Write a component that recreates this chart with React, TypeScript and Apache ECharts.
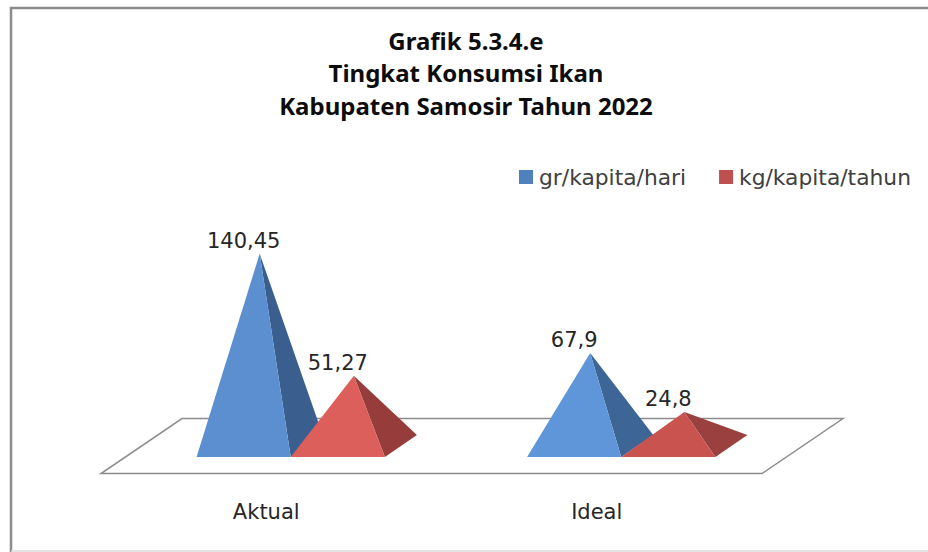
import React, { useEffect, useRef } from "react";
import * as echarts from "echarts";

const categories = ["Aktual", "Ideal"];
const seriesNames = ["gr/kapita/hari", "kg/kapita/tahun"];
const grPerDay = [140.45, 67.9];
const kgPerYear = [51.27, 24.8];
const titleText = "Grafik 5.3.4.e\nTingkat Konsumsi Ikan\nKabupaten Samosir Tahun 2022";

const FONT = '"DejaVu Sans", sans-serif';
const legendColors = ["#4F81BD", "#C0504D"];
// [front face, side face] for each category of each series
const faceColors = [
  [["#5B8FD0", "#3A5F8F"], ["#5F96D9", "#3D6595"]],
  [["#DC5F5B", "#963D3B"], ["#C9544F", "#9A403E"]],
];
const FLOOR_DX = 81;
const FLOOR_DY = 55;
const BAR_SHARE = 94 / 330;
const HALF_DX = 16;
const HALF_DY = 11;

const fmt = (v: number) => String(v).replace(".", ",");

function pyramid(seriesIdx: number) {
  return (_params: any, api: any) => {
    const cat = api.value(0);
    const val = api.value(1);
    const band = api.size([1, 0])[0];
    const w = band * BAR_SHARE;
    const origin = api.coord([cat, 0]);
    const top = api.coord([cat, val]);
    const dir = seriesIdx === 0 ? -0.5 : 0.5;
    const cx = origin[0] + FLOOR_DX / 2 + dir * w;
    const cy = origin[1] - FLOOR_DY / 2;
    const apex = [cx, cy - (origin[1] - top[1])];
    const fl = [cx - HALF_DX - w / 2, cy + HALF_DY];
    const fr = [cx - HALF_DX + w / 2, cy + HALF_DY];
    const br = [cx + HALF_DX + w / 2, cy - HALF_DY];
    const [front, side] = faceColors[seriesIdx][cat];
    return {
      type: "group",
      children: [
        { type: "polygon", shape: { points: [fr, br, apex] }, style: { fill: side } },
        { type: "polygon", shape: { points: [fl, fr, apex] }, style: { fill: front } },
        {
          type: "text",
          style: {
            text: fmt(val),
            x: apex[0] - HALF_DX,
            y: apex[1] - 13,
            align: "center",
            verticalAlign: "middle",
            fontSize: 21,
            fontFamily: FONT,
            fill: "#262626",
          },
        },
      ],
    };
  };
}

function floor(params: any) {
  const { x, y, width, height } = params.coordSys;
  const b = y + height;
  return {
    type: "polygon",
    shape: {
      points: [
        [x, b],
        [x + width, b],
        [x + width + FLOOR_DX, b - FLOOR_DY],
        [x + FLOOR_DX, b - FLOOR_DY],
      ],
    },
    style: { fill: "#FFFFFF", stroke: "#8C8C8C", lineWidth: 1.5 },
  };
}

export default function App() {
  const ref = useRef<HTMLDivElement>(null);
  useEffect(() => {
    document.body.style.margin = "0";
    const chart = echarts.init(ref.current!, null, { renderer: "svg" });
    chart.setOption({
      animation: false,
      backgroundColor: "#FFFFFF",
      title: {
        text: titleText,
        left: 461,
        top: 19,
        textAlign: "center",
        textStyle: {
          fontFamily: '"Noto Sans", sans-serif',
          fontWeight: "bold",
          fontSize: 24,
          lineHeight: 32.5,
          color: "#0D0D0D",
        },
      },
      legend: {
        data: seriesNames,
        left: 514,
        top: 161,
        itemWidth: 14,
        itemHeight: 14,
        itemGap: 33,
        icon: "rect",
        textStyle: { fontFamily: FONT, fontSize: 21.8, color: "#404040", padding: [0, 0, 0, 1] },
      },
      grid: { left: 101, width: 661, top: 199.6, height: 274 },
      xAxis: {
        type: "category",
        data: categories,
        axisLine: { show: false },
        axisTick: { show: false },
        axisLabel: { margin: 28, fontFamily: FONT, fontSize: 21, color: "#262626" },
      },
      yAxis: { type: "value", min: 0, max: 200, show: false },
      graphic: [
        {
          type: "polyline",
          shape: { points: [[11, 552], [11, 8], [928, 8]] },
          style: { stroke: "#8C8C8C", lineWidth: 2.5, fill: "none" },
        },
        {
          type: "line",
          shape: { x1: 11, y1: 551, x2: 928, y2: 551 },
          style: { stroke: "#D9D9D9", lineWidth: 1.5 },
        },
      ],
      series: [
        {
          type: "custom",
          name: "floor",
          z: 1,
          renderItem: floor,
          data: [[0, 0]],
          encode: { x: 0, y: 1 },
          silent: true,
        },
        {
          type: "custom",
          name: seriesNames[0],
          z: 2,
          itemStyle: { color: legendColors[0] },
          renderItem: pyramid(0),
          data: grPerDay.map((v, i) => [i, v]),
          encode: { x: 0, y: 1 },
        },
        {
          type: "custom",
          name: seriesNames[1],
          z: 3,
          itemStyle: { color: legendColors[1] },
          renderItem: pyramid(1),
          data: kgPerYear.map((v, i) => [i, v]),
          encode: { x: 0, y: 1 },
        },
      ],
    });
    return () => chart.dispose();
  }, []);
  return <div ref={ref} style={{ width: 928, height: 552 }} />;
}
